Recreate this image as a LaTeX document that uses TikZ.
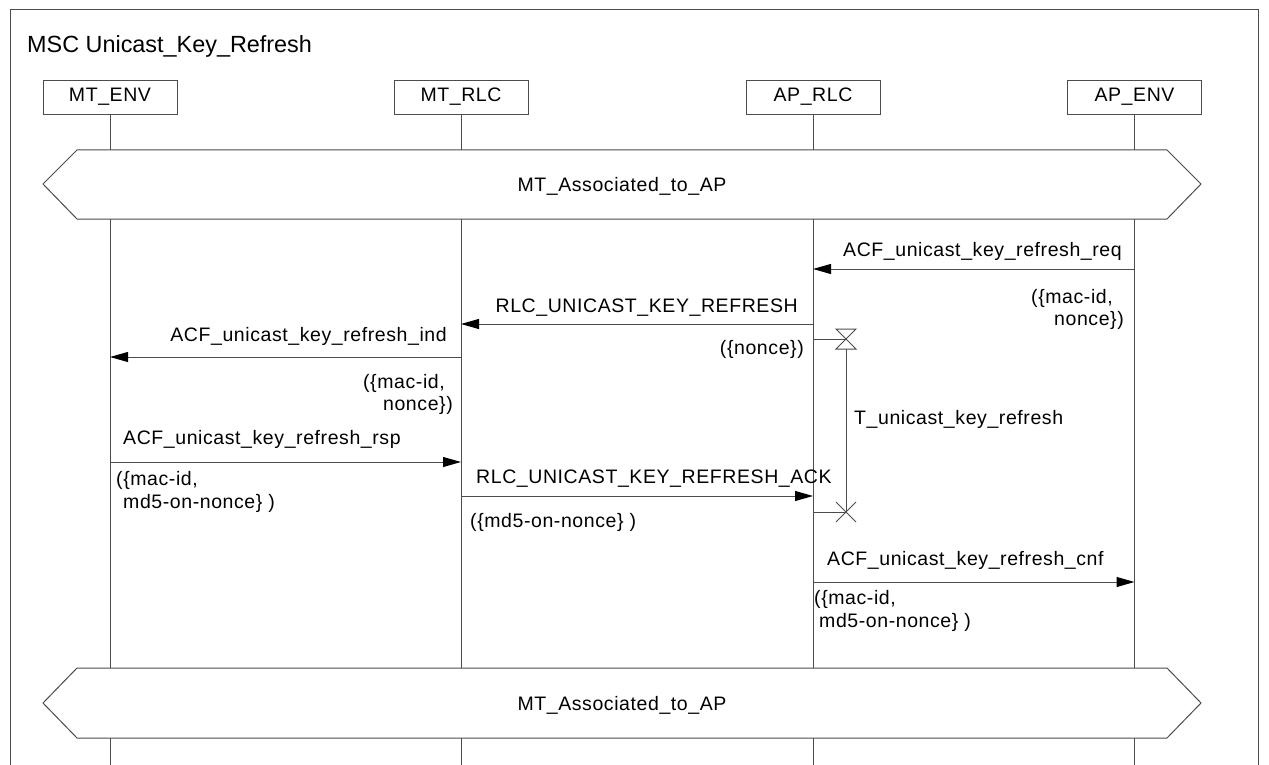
\documentclass[tikz,border=0pt]{standalone}
\usepackage{fontspec}
\setmainfont{Liberation Sans}[LetterSpace=3]
\newfontfamily\titlefont{Liberation Sans}
\usetikzlibrary{arrows.meta}

\begin{document}
\begin{tikzpicture}[x=1pt, y=-1pt, font=\fontsize{19.5}{22}\selectfont]
    \tikzset{
        line/.style={draw=black!70, line width=1pt},
        inst/.style={line, fill=white, minimum width=134pt, minimum height=34pt,
            inner sep=0pt, text height=10pt, text depth=2pt},
        msg/.style={line, -{Triangle[length=18pt, width=10pt, fill=black, color=black]}},
        lbl/.style={inner sep=0pt},
        cond/.style={line, fill=white},
    }
    \useasboundingbox (0,0) rectangle (1269,765);
    % frame and title
    \draw[line] (10,765) -- (10,10) -- (1258,10) -- (1258,765);
    \node[lbl, anchor=base west, font=\titlefont\fontsize{23.4}{26}\selectfont] (title) at (27,53) {MSC Unicast\_Key\_Refresh};

    % instances and lifelines
    \node[inst] (mtenv) at (110,98) {MT\_ENV};
    \node[inst] (mtrlc) at (461,98) {MT\_RLC};
    \node[inst] (aprlc) at (813,98) {AP\_RLC};
    \node[inst] (apenv) at (1134.5,98) {AP\_ENV};
    \foreach \n in {mtenv, mtrlc, aprlc, apenv} {
        \draw[line] (\n.south) -- (\n.south |- 0,765);
    }

    % conditions
    \draw[cond] (43,184) -- (77,150) -- (1167,150) -- (1201,184) -- (1167,219) -- (77,219) -- cycle;
    \node[lbl, anchor=base] (assoc1) at (622,191) {MT\_Associated\_to\_AP};
    \draw[cond] (43,703) -- (77,668) -- (1167,668) -- (1201,703) -- (1167,738) -- (77,738) -- cycle;
    \node[lbl, anchor=base] (assoc2) at (622,710) {MT\_Associated\_to\_AP};

    % messages
    \draw[msg] (apenv.south |- 0,269) coordinate (req a) -- (aprlc.south |- req a) coordinate (req b);
    \node[lbl, anchor=base east] (req) at (1122,256) {ACF\_unicast\_key\_refresh\_req};
    \node[lbl, anchor=base east] (req p1) at (1113,303) {(\{mac-id,};
    \node[lbl, anchor=base east] (req p2) at (1124,325) {nonce\})};

    \draw[msg] (aprlc.south |- 0,324) coordinate (rfr a) -- (mtrlc.south |- rfr a) coordinate (rfr b);
    \node[lbl, anchor=base east] (rfr) at (798,312) {RLC\_UNICAST\_KEY\_REFRESH};
    \node[lbl, anchor=base east] (rfr p1) at (804,354) {(\{nonce\})};

    \draw[msg] (mtrlc.south |- 0,357) coordinate (ind a) -- (mtenv.south |- ind a) coordinate (ind b);
    \node[lbl, anchor=base east] (ind) at (447,341) {ACF\_unicast\_key\_refresh\_ind};
    \node[lbl, anchor=base east] (ind p1) at (445,388) {(\{mac-id,};
    \node[lbl, anchor=base east] (ind p2) at (453,410) {nonce\})};

    \draw[msg] (mtenv.south |- 0,462) coordinate (rsp a) -- (mtrlc.south |- rsp a) coordinate (rsp b);
    \node[lbl, anchor=base west] (rsp) at (123,444) {ACF\_unicast\_key\_refresh\_rsp};
    \node[lbl, anchor=base west] (rsp p1) at (116,485) {(\{mac-id,};
    \node[lbl, anchor=base west] (rsp p2) at (123,508) {md5-on-nonce\} )};

    \draw[msg] (mtrlc.south |- 0,496) coordinate (ack a) -- (aprlc.south |- ack a) coordinate (ack b);
    \node[lbl, anchor=base west] (ack) at (476,483) {RLC\_UNICAST\_KEY\_REFRESH\_ACK};
    \node[lbl, anchor=base west] (ack p1) at (470,527) {(\{md5-on-nonce\} )};

    \draw[msg] (aprlc.south |- 0,582) coordinate (cnf a) -- (apenv.south |- cnf a) coordinate (cnf b);
    \node[lbl, anchor=base west] (cnf) at (827,565) {ACF\_unicast\_key\_refresh\_cnf};
    \node[lbl, anchor=base west] (cnf p1) at (814,604) {(\{mac-id,};
    \node[lbl, anchor=base west] (cnf p2) at (819,627) {md5-on-nonce\} )};

    % timer
    \coordinate (tset) at (846,339);
    \coordinate (tstop) at (846,512);
    \draw[line] (aprlc.south |- tset) -- (tset);
    \draw[line] ([shift={(-10,-10)}]tset) -- ([shift={(10,-10)}]tset)
        -- ([shift={(-10,10)}]tset) -- ([shift={(10,10)}]tset) -- cycle;
    \draw[line] ([yshift=-10pt]tset) -- (tstop);
    \draw[line] (aprlc.south |- tstop) -- (tstop);
    \draw[line] ([shift={(-10,-10)}]tstop) -- ([shift={(10,10)}]tstop);
    \draw[line] ([shift={(-10,10)}]tstop) -- ([shift={(10,-10)}]tstop);
    \node[lbl, anchor=base west] (tname) at (854,424) {T\_unicast\_key\_refresh};
\end{tikzpicture}
\end{document}
